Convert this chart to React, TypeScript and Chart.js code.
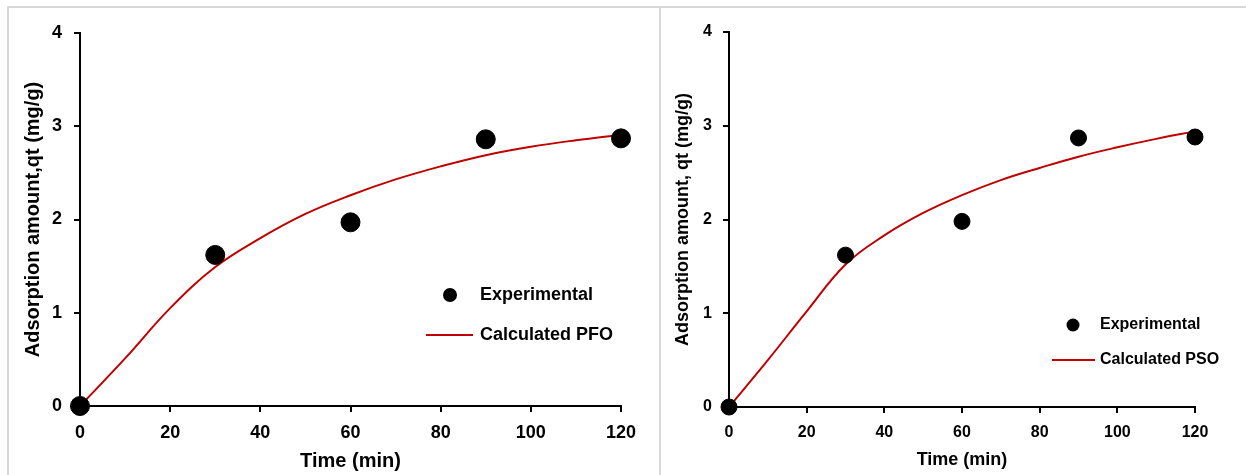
import React, { useEffect, useRef } from "react";
import { Chart, registerables } from "chart.js";

Chart.register(...registerables);

// ---------- data ----------
const timeExp = [0, 30, 60, 90, 120];
const qtExpPFOPanel = [0, 1.62, 1.97, 2.86, 2.87];
const qtExpPSOPanel = [0, 1.62, 1.98, 2.87, 2.88];

const timeCalc = [0, 10, 20, 30, 40, 50, 60, 70, 80, 90, 100, 110, 120];
const qtPFO = [0, 0.51, 1.05, 1.49, 1.8, 2.06, 2.26, 2.43, 2.57, 2.69, 2.78, 2.85, 2.91];
const qtPSO = [0, 0.5, 1.02, 1.52, 1.83, 2.07, 2.26, 2.42, 2.55, 2.67, 2.77, 2.86, 2.94];

const xTicks = [0, 20, 40, 60, 80, 100, 120];
const yTicks = [0, 1, 2, 3, 4];

const xTitle = "Time (min)";
const yTitleLeft = "Adsorption amount,qt (mg/g)";
const yTitleRight = "Adsorption amount, qt (mg/g)";
const legendExp = "Experimental";
const legendPFO = "Calculated PFO";
const legendPSO = "Calculated PSO";

const SANS = "'Liberation Sans', Arial, sans-serif";

function hasFont(name: string) {
  const c = document.createElement("canvas").getContext("2d");
  if (!c) return false;
  const txt = "Experimental 0123456789";
  c.font = "bold 40px monospace";
  const a = c.measureText(txt).width;
  c.font = `bold 40px "${name}", monospace`;
  const b = c.measureText(txt).width;
  return Math.abs(a - b) > 0.5;
}

type Panel = {
  width: number;
  height: number;
  exp: number[];
  calc: number[];
  calcLabel: string;
  yTitle: string;
  markerR: number;
  pad: { left: number; right: number; top: number; bottom: number };
  yWidth: number;
  xHeight: number;
  tickNarrow: number;
  tickRegular: number;
  tickPadX: number;
  tickPadY: number;
  titleSize: number;
  xTitlePad: number;
  yTitlePad: number;
  legend: { mx: number; my: number; mr: number; tx: number; ly: number; l1: number; l2: number; size: number };
};

const leftPanel: Panel = {
  width: 649,
  height: 466,
  exp: qtExpPFOPanel,
  calc: qtPFO,
  calcLabel: legendPFO,
  yTitle: yTitleLeft,
  markerR: 9.5,
  pad: { left: 11, right: 37, top: 24, bottom: 0 },
  yWidth: 60,
  xHeight: 69,
  tickNarrow: 20,
  tickRegular: 18,
  tickPadX: 10,
  tickPadY: 12,
  titleSize: 20,
  xTitlePad: 2,
  yTitlePad: 1,
  legend: { mx: 441, my: 286, mr: 7, tx: 471, ly: 326, l1: 417, l2: 464, size: 18 },
};

const rightPanel: Panel = {
  width: 584,
  height: 466,
  exp: qtExpPSOPanel,
  calc: qtPSO,
  calcLabel: legendPSO,
  yTitle: yTitleRight,
  markerR: 8,
  pad: { left: 10, right: 51, top: 23, bottom: 0 },
  yWidth: 57,
  xHeight: 68,
  tickNarrow: 18,
  tickRegular: 16,
  tickPadX: 10,
  tickPadY: 11,
  titleSize: 18,
  xTitlePad: 4,
  yTitlePad: 0,
  legend: { mx: 411, my: 316, mr: 6.5, tx: 438, ly: 351, l1: 390, l2: 433, size: 16 },
};

function ChartPanel({ panel, left, top }: { panel: Panel; left: number; top: number }) {
  const ref = useRef<HTMLCanvasElement | null>(null);

  useEffect(() => {
    if (!ref.current) return;
    const narrow = hasFont("Liberation Sans Narrow");
    const tickFont = narrow
      ? { family: "'Liberation Sans Narrow', 'Arial Narrow', sans-serif", size: panel.tickNarrow, weight: "bold" as const }
      : { family: SANS, size: panel.tickRegular, weight: "bold" as const };
    const titleFont = { family: SANS, size: panel.titleSize, weight: "bold" as const };
    const lg = panel.legend;

    const legendPlugin = {
      id: "customLegend",
      afterDraw(chart: any) {
        const ctx = chart.ctx as CanvasRenderingContext2D;
        ctx.save();
        ctx.fillStyle = "#000";
        ctx.beginPath();
        ctx.arc(lg.mx, lg.my, lg.mr, 0, Math.PI * 2);
        ctx.fill();
        ctx.strokeStyle = "#c00000";
        ctx.lineWidth = 2;
        ctx.beginPath();
        ctx.moveTo(lg.l1, lg.ly);
        ctx.lineTo(lg.l2, lg.ly);
        ctx.stroke();
        ctx.font = `bold ${lg.size}px ${SANS}`;
        ctx.textBaseline = "middle";
        ctx.textAlign = "left";
        ctx.fillStyle = "#000";
        ctx.fillText(legendExp, lg.tx, lg.my);
        ctx.fillText(panel.calcLabel, lg.tx, lg.ly);
        ctx.restore();
      },
    };

    const chart = new Chart(ref.current, {
      type: "scatter",
      data: {
        datasets: [
          {
            label: legendExp,
            data: timeExp.map((t, i) => ({ x: t, y: panel.exp[i] })),
            backgroundColor: "#000",
            borderColor: "#000",
            pointRadius: panel.markerR,
            pointHoverRadius: panel.markerR,
            showLine: false,
            clip: false,
            order: 1,
          },
          {
            label: panel.calcLabel,
            data: timeCalc.map((t, i) => ({ x: t, y: panel.calc[i] })),
            showLine: true,
            borderColor: "#c00000",
            backgroundColor: "#c00000",
            borderWidth: 2,
            pointRadius: 0,
            pointHoverRadius: 0,
            tension: 0.4,
            clip: false,
            order: 2,
          } as any,
        ],
      },
      options: {
        animation: false,
        responsive: false,
        maintainAspectRatio: false,
        devicePixelRatio: 1,
        events: [],
        layout: { padding: panel.pad },
        plugins: { legend: { display: false }, tooltip: { enabled: false } },
        scales: {
          x: {
            type: "linear",
            min: 0,
            max: 120,
            afterBuildTicks: (s: any) => {
              s.ticks = xTicks.map((v) => ({ value: v }));
            },
            afterFit: (s: any) => {
              s.height = panel.xHeight;
            },
            border: { display: true, color: "#000", width: 2 },
            grid: {
              display: true,
              drawOnChartArea: false,
              drawTicks: true,
              tickLength: 6,
              tickWidth: 2,
              tickColor: "#000",
              color: "#000",
              lineWidth: 2,
            },
            ticks: { color: "#000", font: tickFont, padding: panel.tickPadX, maxRotation: 0, autoSkip: false },
            title: { display: true, text: xTitle, color: "#000", font: titleFont, padding: { top: 0, bottom: panel.xTitlePad } },
          },
          y: {
            type: "linear",
            min: 0,
            max: 4,
            afterBuildTicks: (s: any) => {
              s.ticks = yTicks.map((v) => ({ value: v }));
            },
            afterFit: (s: any) => {
              s.width = panel.yWidth;
            },
            border: { display: true, color: "#000", width: 2 },
            grid: {
              display: true,
              drawOnChartArea: false,
              drawTicks: true,
              tickLength: 6,
              tickWidth: 2,
              tickColor: "#000",
              color: "#000",
              lineWidth: 2,
            },
            ticks: { color: "#000", font: tickFont, padding: panel.tickPadY, autoSkip: false },
            title: { display: true, text: panel.yTitle, color: "#000", font: titleFont, padding: { top: panel.yTitlePad, bottom: 0 } },
          },
        },
      } as any,
      plugins: [legendPlugin],
    });
    return () => chart.destroy();
  }, [panel]);

  return (
    <canvas
      ref={ref}
      width={panel.width}
      height={panel.height}
      style={{ position: "absolute", left, top, width: panel.width, height: panel.height }}
    />
  );
}

export default function App() {
  const grey = "#d9d9d9";
  return (
    <div style={{ position: "absolute", left: 0, top: 0, width: 1246, height: 475, background: "#fff", overflow: "hidden" }}>
      <div style={{ position: "absolute", left: 7, top: 6, width: 1239, height: 2, background: grey }} />
      <div style={{ position: "absolute", left: 7, top: 6, width: 2, height: 469, background: grey }} />
      <div style={{ position: "absolute", left: 659, top: 6, width: 2, height: 469, background: grey }} />
      <ChartPanel panel={leftPanel} left={9} top={9} />
      <ChartPanel panel={rightPanel} left={662} top={9} />
    </div>
  );
}
